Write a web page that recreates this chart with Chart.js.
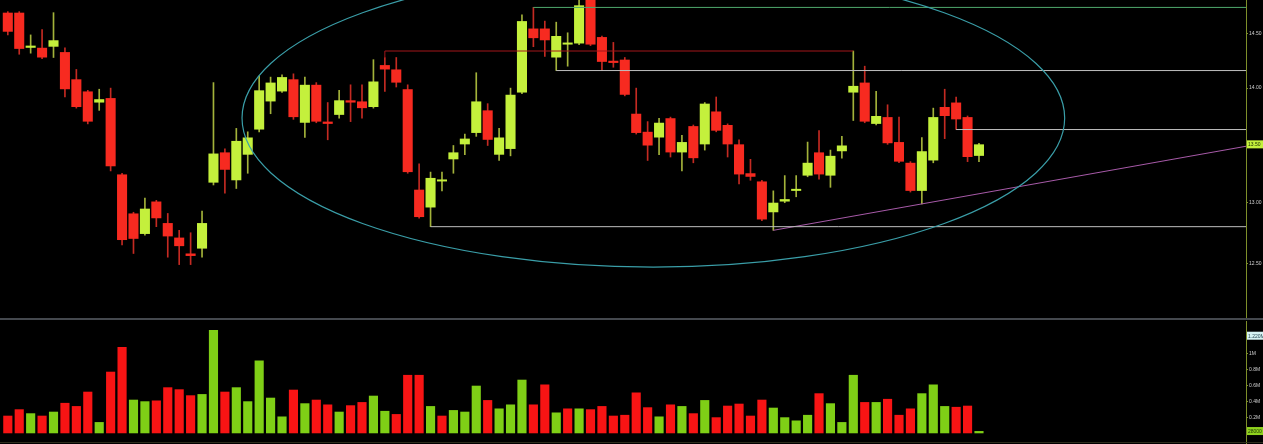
<!DOCTYPE html>
<html>
<head>
<meta charset="utf-8">
<script src="https://cdn.jsdelivr.net/npm/chart.js@4.4.0/dist/chart.umd.min.js"></script>
<style>
  html, body { margin: 0; padding: 0; background: #000; }
  #painel { position: relative; width: 1263px; height: 444px; overflow: hidden; background: #000; }
  #graficoPrecos { position: absolute; left: 0; top: 0; }
  #separador { position: absolute; left: 0; top: 318px; width: 1263px; height: 2px; background: #44484e; }
  #graficoVolume { position: absolute; left: 0; top: 321px; }
  #rodape { position: absolute; left: 0; top: 442px; width: 1263px; height: 1px; background: #2c2c1c; }
</style>
</head>
<body>
<div id="painel">
  <canvas id="graficoPrecos" width="1263" height="318"></canvas>
  <div id="separador"></div>
  <canvas id="graficoVolume" width="1263" height="123"></canvas>
  <div id="rodape"></div>
</div>
<script>
// candles (indice 0..85)
const aberturas = [14.70, 14.70, 14.37, 14.37, 14.38, 14.33, 14.08, 13.97, 13.87, 13.91,
  13.24, 12.91, 12.74, 13.01, 12.83, 12.71, 12.58, 12.62, 13.17, 13.43,
  13.19, 13.41, 13.63, 13.88, 13.97, 14.08, 13.69, 14.03, 13.70, 13.76,
  13.89, 13.88, 13.83, 14.21, 14.17, 13.99, 13.11, 12.96, 13.18, 13.37,
  13.50, 13.60, 13.80, 13.41, 13.46, 13.96, 14.55, 14.55, 14.28, 14.40,
  14.41, 14.84, 14.47, 14.25, 14.26, 13.77, 13.61, 13.56, 13.73, 13.43,
  13.66, 13.50, 13.79, 13.67, 13.50, 13.25, 13.18, 12.92, 13.01, 13.10,
  13.23, 13.43, 13.23, 13.44, 13.96, 14.05, 13.68, 13.74, 13.52, 13.34,
  13.10, 13.36, 13.83, 13.87, 13.74, 13.40];
const maximas = [14.71, 14.71, 14.49, 14.54, 14.70, 14.37, 14.17, 13.98, 13.99, 14.00,
  13.25, 12.92, 13.04, 13.02, 12.91, 12.77, 12.75, 12.93, 14.05, 13.46,
  13.64, 13.61, 14.11, 14.10, 14.12, 14.13, 14.10, 14.05, 13.87, 13.98,
  14.03, 14.03, 14.26, 14.28, 14.28, 14.03, 13.33, 13.26, 13.26, 13.49,
  13.59, 14.14, 13.86, 13.64, 14.00, 14.68, 14.75, 14.62, 14.61, 14.51,
  14.84, 14.86, 14.48, 14.42, 14.28, 14.00, 13.70, 13.73, 13.74, 13.58,
  13.67, 13.87, 13.92, 13.68, 13.54, 13.37, 13.19, 13.10, 13.23, 13.23,
  13.52, 13.62, 13.45, 13.57, 14.34, 14.20, 13.97, 13.85, 13.74, 13.35,
  13.56, 13.82, 13.99, 13.92, 13.75, 13.51];
const minimas = [14.49, 14.31, 14.32, 14.27, 14.28, 13.92, 13.82, 13.68, 13.80, 13.27,
  12.65, 12.58, 12.73, 12.80, 12.55, 12.49, 12.49, 12.55, 13.15, 13.08,
  13.12, 13.25, 13.61, 13.77, 13.96, 13.72, 13.56, 13.69, 13.54, 13.73,
  13.70, 13.73, 13.82, 13.97, 14.01, 13.25, 12.87, 12.80, 13.10, 13.25,
  13.41, 13.57, 13.49, 13.36, 13.40, 13.95, 14.38, 14.29, 14.16, 14.20,
  14.40, 14.39, 14.16, 14.19, 13.93, 13.59, 13.36, 13.41, 13.39, 13.27,
  13.34, 13.45, 13.61, 13.39, 13.16, 13.19, 12.85, 12.77, 13.00, 13.05,
  13.22, 13.20, 13.13, 13.38, 13.71, 13.69, 13.67, 13.50, 13.34, 13.09,
  12.99, 13.34, 13.55, 13.63, 13.35, 13.35];
const fechamentos = [14.52, 14.36, 14.39, 14.28, 14.44, 13.99, 13.83, 13.70, 13.90, 13.31,
  12.69, 12.70, 12.95, 12.87, 12.72, 12.64, 12.56, 12.83, 13.42, 13.28,
  13.53, 13.56, 13.98, 14.05, 14.10, 13.74, 14.03, 13.70, 13.68, 13.89,
  13.87, 13.82, 14.06, 14.17, 14.05, 13.26, 12.88, 13.21, 13.19, 13.43,
  13.55, 13.88, 13.54, 13.56, 13.94, 14.62, 14.46, 14.44, 14.48, 14.41,
  14.77, 14.40, 14.24, 14.23, 13.94, 13.60, 13.49, 13.69, 13.43, 13.52,
  13.38, 13.86, 13.62, 13.50, 13.24, 13.22, 12.86, 13.00, 13.03, 13.11,
  13.34, 13.24, 13.40, 13.49, 14.02, 13.70, 13.75, 13.51, 13.35, 13.10,
  13.44, 13.74, 13.75, 13.72, 13.39, 13.50];
// volume em milhoes
const volumes = [0.22, 0.30, 0.25, 0.22, 0.27, 0.38, 0.34, 0.52, 0.14, 0.77,
  1.08, 0.42, 0.40, 0.41, 0.575, 0.55, 0.475, 0.49, 1.29, 0.52,
  0.575, 0.40, 0.91, 0.445, 0.21, 0.545, 0.375, 0.42, 0.36, 0.27,
  0.35, 0.39, 0.47, 0.28, 0.24, 0.73, 0.73, 0.34, 0.22, 0.29,
  0.27, 0.595, 0.415, 0.31, 0.36, 0.67, 0.36, 0.61, 0.26, 0.31,
  0.31, 0.30, 0.34, 0.22, 0.23, 0.51, 0.325, 0.21, 0.36, 0.34,
  0.25, 0.415, 0.20, 0.345, 0.37, 0.22, 0.42, 0.32, 0.20, 0.16,
  0.23, 0.50, 0.375, 0.14, 0.73, 0.39, 0.39, 0.43, 0.23, 0.31,
  0.50, 0.61, 0.34, 0.33, 0.345, 0.028];

const ticksPreco = [12.5, 13, 13.5, 14, 14.5];
const ticksVolume = [0.2, 0.4, 0.6, 0.8, 1, 1.2];
const marcaVolume = 1.22;

// desenhos do analista
const niveisInicio = [46, 48, 83, 37];
const niveisPreco = [14.75, 14.16, 13.63, 12.80];
const resistencia = [[33, 14.28], [33, 14.34], [74, 14.34]];
const tendencia = [[67, 12.77], [80, 12.99]];
const elipseX = [20.5, 92.5];
const elipsePreco = [12.47, 15.12];

const xMin = -0.683;
const xMax = 108.37;

const corAlta = '#c4f03c';
const corBaixa = '#f72a20';
const pavioAlta = '#a3b23a';
const pavioBaixa = '#c42a22';
const volAlta = '#7fcf16';
const volBaixa = '#f81414';

const indices = fechamentos.map((_, i) => i);
const coresCandle = indices.map(i => fechamentos[i] >= aberturas[i] ? corAlta : corBaixa);
const coresPavio = indices.map(i => fechamentos[i] >= aberturas[i] ? pavioAlta : pavioBaixa);
const coresVolume = indices.map(i => {
    const ref = i === 0 ? aberturas[0] : fechamentos[i - 1];
    return fechamentos[i] >= ref ? volAlta : volBaixa;
});

function precoTendencia(x) {
    const [x0, p0] = tendencia[0];
    const [x1, p1] = tendencia[1];
    const k = (Math.log(p1) - Math.log(p0)) / (x1 - x0);
    return p0 * Math.exp(k * (x - x0));
}

function eixoDireito(ticks, formato) {
    return {
        position: 'right',
        afterBuildTicks: (s) => { s.ticks = ticks.map(v => ({ value: v })); },
        afterFit: (s) => { s.width = 17; s.paddingTop = 0; s.paddingBottom = 0; },
        grid: { drawOnChartArea: false, drawTicks: true, tickLength: 2, color: '#7e8f2a' },
        border: { color: '#7e8f2a', width: 1 },
        ticks: {
            color: '#cfcfcf',
            padding: 1,
            autoSkip: false,
            font: { family: 'Liberation Sans Narrow, Liberation Sans', size: 5 },
            callback: formato,
        },
    };
}

const eixoX = {
    type: 'linear',
    min: xMin,
    max: xMax,
    offset: false,
    display: false,
};

function desenharEtiqueta(chart, valor, texto, fundo, corTexto) {
    const { ctx, chartArea, scales } = chart;
    const py = scales.y.getPixelForValue(valor);
    ctx.save();
    ctx.fillStyle = fundo;
    ctx.fillRect(chartArea.right + 1, py - 4, 16, 8);
    ctx.fillStyle = corTexto;
    ctx.font = '5px "Liberation Sans Narrow", "Liberation Sans"';
    ctx.textBaseline = 'middle';
    ctx.fillText(texto, chartArea.right + 2, py + 0.5);
    ctx.restore();
}

const pluginElipse = {
    id: 'elipse',
    afterDatasetsDraw(chart) {
        const { ctx, chartArea, scales } = chart;
        const esq = scales.x.getPixelForValue(elipseX[0]);
        const dir = scales.x.getPixelForValue(elipseX[1]);
        const topo = scales.y.getPixelForValue(elipsePreco[1]);
        const fundo = scales.y.getPixelForValue(elipsePreco[0]);
        ctx.save();
        ctx.beginPath();
        ctx.rect(chartArea.left, chartArea.top, chartArea.width, chartArea.height);
        ctx.clip();
        ctx.beginPath();
        ctx.ellipse((esq + dir) / 2, (topo + fundo) / 2, (dir - esq) / 2, (fundo - topo) / 2, 0, 0, Math.PI * 2);
        ctx.strokeStyle = '#3a9ea8';
        ctx.lineWidth = 1.2;
        ctx.stroke();
        ctx.restore();
    },
    afterDraw(chart) {
        const ultimo = fechamentos[fechamentos.length - 1];
        desenharEtiqueta(chart, ultimo, ultimo.toFixed(2), corAlta, '#1a2a00');
    },
};

const pluginVolume = {
    id: 'etiquetasVolume',
    afterDraw(chart) {
        const ultimo = volumes[volumes.length - 1];
        desenharEtiqueta(chart, marcaVolume, marcaVolume.toFixed(3) + 'M', '#d6f2f2', '#2a4a55');
        desenharEtiqueta(chart, ultimo, String(Math.round(ultimo * 1e6)), '#8fd21e', '#1a3300');
    },
};

function linha(dados, cor) {
    return {
        type: 'line',
        data: dados.map(([x, y]) => ({ x, y })),
        borderColor: cor,
        borderWidth: 1,
        pointRadius: 0,
        tension: 0,
        order: 1,
    };
}

const linhasNivel = niveisInicio.map((inicio, k) => linha(
    [[inicio, niveisPreco[k]], [xMax, niveisPreco[k]]],
    k === 0 ? '#4fa86c' : '#bfbfbf'
));

new Chart(document.getElementById('graficoPrecos').getContext('2d'), {
    type: 'bar',
    data: {
        datasets: [
            {
                label: 'pavio',
                data: indices.map(i => ({ x: i, y: [minimas[i], maximas[i]] })),
                backgroundColor: coresPavio,
                barThickness: 1,
                grouped: false,
                order: 3,
            },
            {
                label: 'corpo',
                data: indices.map(i => ({ x: i, y: [aberturas[i], fechamentos[i]] })),
                backgroundColor: coresCandle,
                barPercentage: 0.88,
                categoryPercentage: 1,
                minBarLength: 2,
                grouped: false,
                order: 2,
            },
            ...linhasNivel,
            linha(resistencia, '#a3161a'),
            linha([tendencia[0], [xMax, precoTendencia(xMax)]], '#a75aa8'),
        ],
    },
    options: {
        responsive: false,
        animation: false,
        layout: { padding: 0 },
        plugins: { legend: { display: false }, tooltip: { enabled: false } },
        scales: {
            x: eixoX,
            y: {
                type: 'logarithmic',
                min: 12.066,
                max: 14.821,
                ...eixoDireito(ticksPreco, v => Number(v).toFixed(2)),
            },
        },
    },
    plugins: [pluginElipse],
});

new Chart(document.getElementById('graficoVolume').getContext('2d'), {
    type: 'bar',
    data: {
        datasets: [
            {
                label: 'Volume',
                data: indices.map(i => ({ x: i, y: volumes[i] })),
                backgroundColor: coresVolume,
                barPercentage: 0.8,
                categoryPercentage: 1,
            },
        ],
    },
    options: {
        responsive: false,
        animation: false,
        layout: { padding: 0 },
        plugins: { legend: { display: false }, tooltip: { enabled: false } },
        scales: {
            x: eixoX,
            y: {
                type: 'linear',
                min: -0.134,
                max: 1.404,
                ...eixoDireito(ticksVolume, v => (v === 1 ? '1' : Number(v).toFixed(1)) + 'M'),
            },
        },
    },
    plugins: [pluginVolume],
});
</script>
</body>
</html>
